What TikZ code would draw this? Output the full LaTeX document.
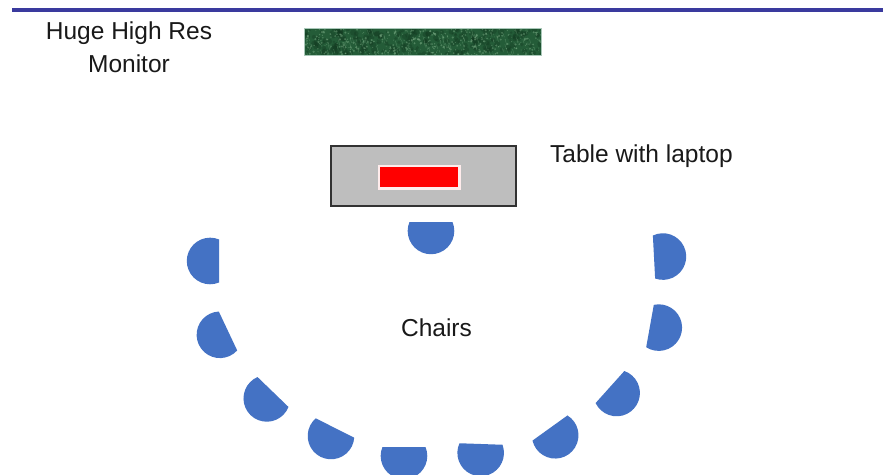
\documentclass[tikz,border=0pt]{standalone}
\usepackage{fontspec}
\setmainfont{Liberation Sans}
\definecolor{rulerblue}{RGB}{58,58,158}
\definecolor{screengreen}{RGB}{36,92,56}
\definecolor{screenspeck}{RGB}{130,180,140}
\definecolor{screendark}{RGB}{18,56,32}
\definecolor{screenedge}{RGB}{170,200,185}
\definecolor{tablegray}{RGB}{190,190,190}
\definecolor{tableedge}{RGB}{50,50,50}
\definecolor{laptopred}{RGB}{255,0,0}
\definecolor{laptopedge}{RGB}{255,236,236}
\definecolor{chairblue}{RGB}{68,114,196}
\begin{document}
\begin{tikzpicture}[x=1pt,y=-1pt,
  label/.style={font=\fontsize{24.5}{33}\selectfont, inner sep=0pt, text=black!90},
  chair/.style={fill=chairblue},
  chairpic/.pic={\fill[chair] (0pt,21.5pt) arc[start angle=112.5,end angle=-112.5,radius=23.3pt] -- cycle;}]
\useasboundingbox (0,0) rectangle (883,474);
\fill[white] (0,0) rectangle (883,474);

% wall line at the top of the room
\draw[rulerblue, line width=4pt] (12,9.5) -- (883,9.5);

% large wall monitor with a mottled screen
\node[fill=screengreen, minimum width=236pt, minimum height=26pt, inner sep=0pt] (monitor) at (423,42) {};
\begin{scope}
  \clip (monitor.south west) rectangle (monitor.north east);
  \pgfmathsetseed{7}
  \foreach \k in {1,...,260}{
    \pgfmathsetmacro\sx{305+236*rnd}
    \pgfmathsetmacro\sy{29+26*rnd}
    \pgfmathsetmacro\sr{1+2.4*rnd}
    \fill[screendark, opacity=0.35] (\sx,\sy) circle[radius=\sr pt];
  }
  \foreach \k in {1,...,120}{
    \pgfmathsetmacro\sx{305+236*rnd}
    \pgfmathsetmacro\sy{29+26*rnd}
    \pgfmathsetmacro\sl{2+5*rnd}
    \draw[screenspeck, opacity=0.35, line width=0.5pt] (\sx,\sy) -- ++(0.3*\sl,\sl);
  }
  \foreach \k in {1,...,420}{
    \pgfmathsetmacro\sx{305+236*rnd}
    \pgfmathsetmacro\sy{29+26*rnd}
    \pgfmathsetmacro\sr{0.35+0.9*rnd}
    \fill[screenspeck, opacity=0.45] (\sx,\sy) circle[radius=\sr pt];
  }
\end{scope}
\draw[screenedge, line width=0.8pt] (monitor.south west) rectangle (monitor.north east);

% table with the laptop on it
\node[fill=tablegray, draw=tableedge, line width=1.2pt, minimum width=185pt, minimum height=60pt, inner sep=0pt] (table) at (423.5,176) {};
\node[fill=laptopred, draw=laptopedge, line width=2.5pt, minimum width=80.5pt, minimum height=22.5pt, inner sep=0pt] (laptop) at (419,177) {};

% labels
\node[label, align=center, anchor=north] (monitorlabel) at (129,22) {Huge High Res\\Monitor};
\node[label, anchor=base west] (tablelabel) at (550,162) {Table with laptop};
\node[label, anchor=base] (chairslabel) at (436.5,336) {Chairs};

% chairs: chord centre and facing angle
\foreach \cx/\cy/\ang [count=\n] in {
  431/222/-90, 219/261/180, 228/331/-154.7, 273/392/-134, 335/428/-116.6,
  404/447/-90, 481/444/-92, 550/428/-54.3, 610/387/-41.9, 650/326/-10.2, 654/257/3}{
  \pic[rotate=\ang] (chair\n) at (\cx,\cy) {chairpic};
}
\end{tikzpicture}
\end{document}
